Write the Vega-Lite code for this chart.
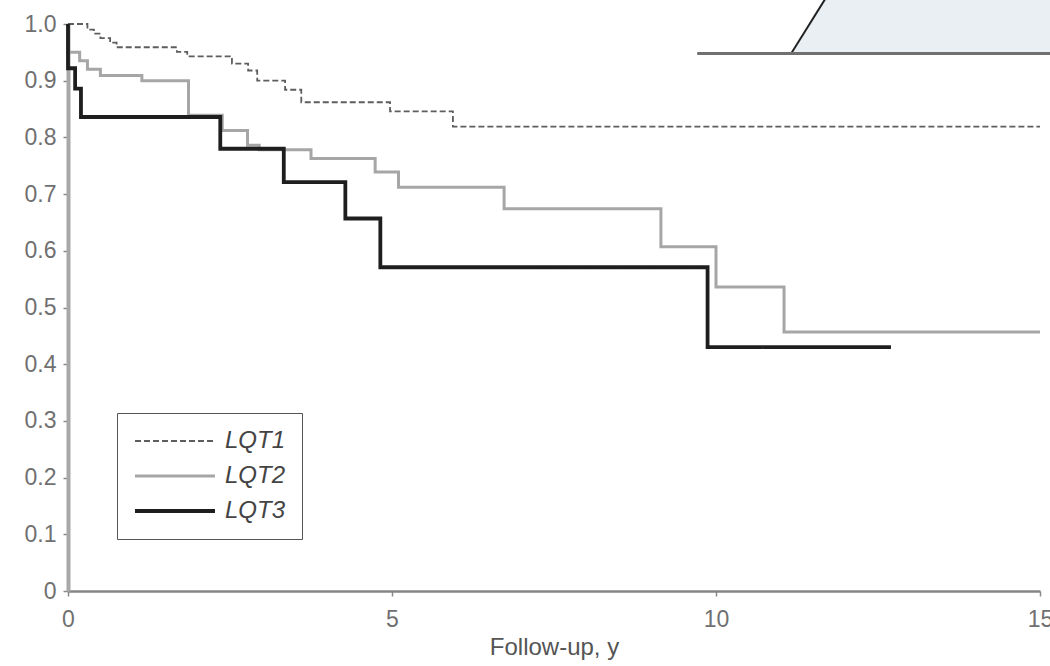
{
  "$schema": "https://vega.github.io/schema/vega-lite/v6.json",
  "width": 972,
  "height": 567,
  "autosize": {"type": "none"},
  "padding": {"left": 68, "top": 24, "right": 10, "bottom": 75},
  "background": "white",
  "config": {
    "view": {"stroke": null},
    "font": "Liberation Sans",
    "axis": {"grid": false, "labelFlush": false, "labelOverlap": false, "labelBound": false},
    "axisY": {"domainColor": "#a8a8a8", "domainWidth": 4, "tickColor": "#888888", "tickSize": 5, "tickWidth": 1.5, "labelFontSize": 23, "labelColor": "#707070", "labelPadding": 7},
    "axisX": {"domainColor": "#858585", "domainWidth": 2.5, "tickColor": "#888888", "tickSize": 5, "tickWidth": 1.5, "labelFontSize": 23, "labelColor": "#707070", "labelPadding": 12, "titleFontSize": 24, "titleColor": "#555555", "titleFontWeight": "normal", "titlePadding": 4},
    "legend": {"orient": "none", "legendX": 49, "legendY": 389, "strokeColor": "#555555", "fillColor": "white", "padding": 16, "labelFontSize": 24, "labelFontStyle": "italic", "labelColor": "#444444", "labelOffset": 68, "rowPadding": 11, "symbolType": "M-1,0H7", "symbolSize": 400, "labelExpr": "datum.label + '   '"}
  },
  "layer": [
    {
      "data": {"values": [
        {"t": 11.16, "s": 0.948, "s2": 0.948},
        {"t": 11.67, "s": 1.045, "s2": 0.948},
        {"t": 15.4, "s": 1.045, "s2": 0.948}
      ]},
      "mark": {"type": "area", "fill": "#e9eff3", "clip": false},
      "encoding": {
        "x": {"field": "t", "type": "quantitative", "scale": {"domain": [0, 15], "nice": false, "zero": false}, "axis": {"values": [0, 5, 10, 15]}, "title": "Follow-up, y"},
        "y": {"field": "s", "type": "quantitative", "scale": {"domain": [0, 1], "nice": false, "zero": false}, "axis": {"values": [0, 0.1, 0.2, 0.3, 0.4, 0.5, 0.6, 0.7, 0.8, 0.9, 1.0], "labelExpr": "datum.value == 0 ? '0' : format(datum.value, '.1f')"}, "title": null},
        "y2": {"field": "s2"}
      }
    },
    {
      "data": {"values": [
        {"t": 11.16, "s": 0.948},
        {"t": 11.69, "s": 1.045}
      ]},
      "mark": {"type": "line", "color": "#222222", "strokeWidth": 2, "clip": false},
      "encoding": {
        "x": {"field": "t", "type": "quantitative", "scale": {"domain": [0, 15], "nice": false, "zero": false}, "axis": {"values": [0, 5, 10, 15]}, "title": "Follow-up, y"},
        "y": {"field": "s", "type": "quantitative", "scale": {"domain": [0, 1], "nice": false, "zero": false}, "axis": {"values": [0, 0.1, 0.2, 0.3, 0.4, 0.5, 0.6, 0.7, 0.8, 0.9, 1.0], "labelExpr": "datum.value == 0 ? '0' : format(datum.value, '.1f')"}, "title": null}
      }
    },
    {
      "data": {"values": [
        {"t": 9.71, "t2": 15.4, "s": 0.948}
      ]},
      "mark": {"type": "rule", "color": "#707070", "strokeWidth": 3, "clip": false},
      "encoding": {
        "x": {"field": "t", "type": "quantitative", "scale": {"domain": [0, 15], "nice": false, "zero": false}, "axis": {"values": [0, 5, 10, 15]}, "title": "Follow-up, y"},
        "x2": {"field": "t2"},
        "y": {"field": "s", "type": "quantitative", "scale": {"domain": [0, 1], "nice": false, "zero": false}, "axis": {"values": [0, 0.1, 0.2, 0.3, 0.4, 0.5, 0.6, 0.7, 0.8, 0.9, 1.0], "labelExpr": "datum.value == 0 ? '0' : format(datum.value, '.1f')"}, "title": null}
      }
    },
    {
      "data": {"values": [
        {"series": "LQT1", "t": 0, "s": 1.0},
        {"series": "LQT1", "t": 0.3, "s": 0.99},
        {"series": "LQT1", "t": 0.4, "s": 0.983},
        {"series": "LQT1", "t": 0.5, "s": 0.975},
        {"series": "LQT1", "t": 0.65, "s": 0.967},
        {"series": "LQT1", "t": 0.75, "s": 0.959},
        {"series": "LQT1", "t": 1.68, "s": 0.951},
        {"series": "LQT1", "t": 1.84, "s": 0.943},
        {"series": "LQT1", "t": 2.53, "s": 0.93},
        {"series": "LQT1", "t": 2.78, "s": 0.918},
        {"series": "LQT1", "t": 2.92, "s": 0.9},
        {"series": "LQT1", "t": 3.35, "s": 0.884},
        {"series": "LQT1", "t": 3.6, "s": 0.862},
        {"series": "LQT1", "t": 4.97, "s": 0.846},
        {"series": "LQT1", "t": 5.94, "s": 0.819},
        {"series": "LQT1", "t": 15, "s": 0.819},
        {"series": "LQT2", "t": 0, "s": 1.0},
        {"series": "LQT2", "t": 0.0, "s": 0.95},
        {"series": "LQT2", "t": 0.18, "s": 0.935},
        {"series": "LQT2", "t": 0.3, "s": 0.92},
        {"series": "LQT2", "t": 0.5, "s": 0.909},
        {"series": "LQT2", "t": 1.14, "s": 0.9},
        {"series": "LQT2", "t": 1.86, "s": 0.839},
        {"series": "LQT2", "t": 2.38, "s": 0.812},
        {"series": "LQT2", "t": 2.77, "s": 0.786},
        {"series": "LQT2", "t": 2.95, "s": 0.778},
        {"series": "LQT2", "t": 3.75, "s": 0.763},
        {"series": "LQT2", "t": 4.74, "s": 0.739},
        {"series": "LQT2", "t": 5.1, "s": 0.712},
        {"series": "LQT2", "t": 6.73, "s": 0.674},
        {"series": "LQT2", "t": 9.15, "s": 0.607},
        {"series": "LQT2", "t": 10.0, "s": 0.536},
        {"series": "LQT2", "t": 11.05, "s": 0.457},
        {"series": "LQT2", "t": 15, "s": 0.457},
        {"series": "LQT3", "t": 0, "s": 1.0},
        {"series": "LQT3", "t": 0.0, "s": 0.922},
        {"series": "LQT3", "t": 0.11, "s": 0.886},
        {"series": "LQT3", "t": 0.2, "s": 0.836},
        {"series": "LQT3", "t": 2.35, "s": 0.78},
        {"series": "LQT3", "t": 3.33, "s": 0.721},
        {"series": "LQT3", "t": 4.28, "s": 0.657},
        {"series": "LQT3", "t": 4.82, "s": 0.571},
        {"series": "LQT3", "t": 9.87, "s": 0.43},
        {"series": "LQT3", "t": 12.7, "s": 0.43}
      ]},
      "mark": {"type": "line", "interpolate": "step-after", "strokeCap": "butt", "strokeJoin": "miter", "clip": false},
      "encoding": {
        "x": {"field": "t", "type": "quantitative", "scale": {"domain": [0, 15], "nice": false, "zero": false}, "axis": {"values": [0, 5, 10, 15]}, "title": "Follow-up, y"},
        "y": {"field": "s", "type": "quantitative", "scale": {"domain": [0, 1], "nice": false, "zero": false}, "axis": {"values": [0, 0.1, 0.2, 0.3, 0.4, 0.5, 0.6, 0.7, 0.8, 0.9, 1.0], "labelExpr": "datum.value == 0 ? '0' : format(datum.value, '.1f')"}, "title": null},
        "color": {"field": "series", "type": "nominal", "scale": {"domain": ["LQT1", "LQT2", "LQT3"], "range": ["#5e5e5e", "#a6a6a6", "#1e1e1e"]}, "title": null},
        "strokeDash": {"field": "series", "type": "nominal", "scale": {"domain": ["LQT1", "LQT2", "LQT3"], "range": [[6, 3], [1, 0], [1, 0]]}, "title": null},
        "strokeWidth": {"field": "series", "type": "nominal", "scale": {"type": "ordinal", "domain": ["LQT1", "LQT2", "LQT3"], "range": [1.8, 3, 3.8]}, "title": null}
      }
    }
  ]
}
